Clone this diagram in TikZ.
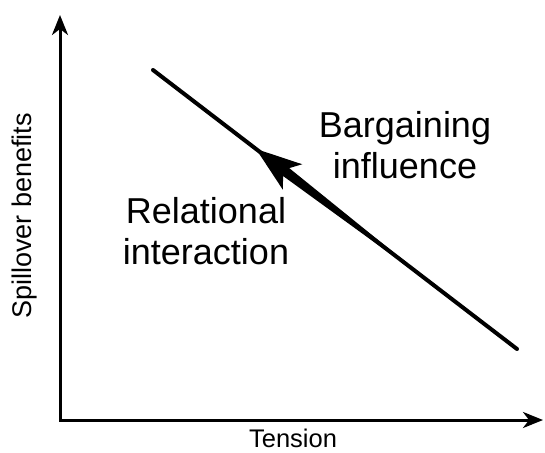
\documentclass[tikz,border=0pt]{standalone}
\usepackage{fontspec}
\setmainfont{Liberation Sans}
\usetikzlibrary{arrows.meta,calc}
\begin{document}
\begin{tikzpicture}[x=1pt,y=-1pt,
  axis/.style={line width=3pt, {Stealth[length=20pt,width=16pt,inset=6pt]}-{Stealth[length=20pt,width=16pt,inset=6pt]}, line join=miter},
  trend/.style={line width=4pt, line cap=round},
  lab/.style={font=\fontsize{36}{41}\selectfont, align=center, inner sep=0pt},
  axlab/.style={font=\fontsize{25.5}{30}\selectfont, inner sep=0pt}]
\useasboundingbox (0,0) rectangle (545,452);
% axes
\coordinate (ytop) at (60,15);
\coordinate (origin) at (60,420);
\coordinate (xend) at (543,420);
\draw[axis] (ytop) -- (origin) -- (xend);
% trend line
\coordinate (S) at (153,70);
\coordinate (E) at (517,349);
\draw[trend] (S) -- (E);
% tapered arrow
\coordinate (T) at ($(S)!129.8pt!(E)$);
\coordinate (B) at ($(T)!46pt!(E)$);
\coordinate (N) at ($(T)!38pt!(E)$);
\coordinate (Z) at ($(T)!230pt!(E)$);
\coordinate (b1) at ($(B)!16pt!90:(E)$);
\coordinate (b2) at ($(B)!16pt!-90:(E)$);
\coordinate (n1) at ($(N)!5pt!90:(E)$);
\coordinate (n2) at ($(N)!5pt!-90:(E)$);
\fill (T) -- (b1) -- (n1) -- (Z) -- (n2) -- (b2) -- cycle;
% labels
\node[lab] (barg) at (405,145) {Bargaining\\influence};
\node[lab] (rel) at (206,231) {Relational\\interaction};
\node[axlab, anchor=base] (tension) at (293,447.5) {Tension};
\node[axlab, anchor=base, rotate=90, font=\fontsize{27}{30}\selectfont] (spill) at (31,216) {Spillover benefits};
\end{tikzpicture}
\end{document}
